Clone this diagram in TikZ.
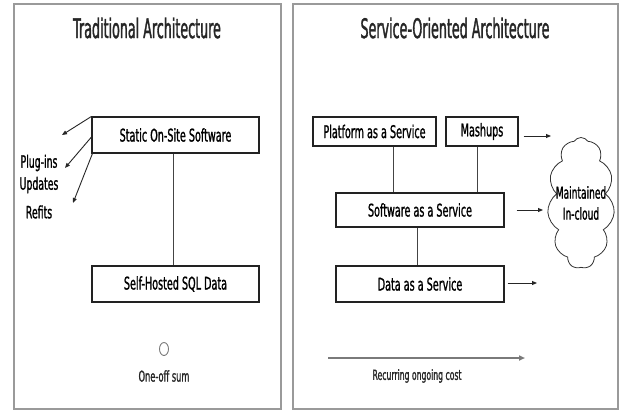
\documentclass[tikz,border=0pt]{standalone}
\usepackage{fontspec}
\setmainfont{DejaVu Sans}[FakeStretch=0.55,FakeBold=1.1]
\newfontfamily\titlefont{DejaVu Sans}[FakeStretch=0.47,FakeBold=1.2]
\usetikzlibrary{arrows.meta,shapes.symbols,shapes.geometric}
\definecolor{frame}{HTML}{9A9A9A}
\definecolor{boxline}{HTML}{222222}
\definecolor{conn}{HTML}{444444}
\definecolor{cost}{HTML}{7A7A7A}
\begin{document}
\begin{tikzpicture}[x=1pt,y=-1pt,
  panel/.style={draw=frame,line width=1.4pt},
  titletext/.style={font=\titlefont\fontsize{27}{29}\selectfont,text=black!85},
  sbox/.style={draw=boxline,line width=1.1pt,fill=white,inner sep=0pt,
    font=\fontsize{17.5}{19}\selectfont},
  lbl/.style={font=\fontsize{17}{19}\selectfont,inner sep=0pt},
  small/.style={font=\fontsize{15}{17}\selectfont,text=black!85,inner sep=0pt},
  link/.style={draw=conn,line width=0.8pt},
  arr/.style={draw=black!85,line width=0.9pt,-{Triangle[length=5pt,width=4pt]}},
  costarr/.style={draw=cost,line width=1.6pt,-{Triangle[length=6pt,width=5pt]}}
]
\useasboundingbox (0,0) rectangle (620,412);
\fill[white] (0,0) rectangle (620,412);
% panels
\draw[panel] (14,4) rectangle (281,409);
\draw[panel] (293,4) rectangle (618,409);
% titles
\node[titletext] (t1) at (147,28) {Traditional Architecture};
\node[titletext] (t2) at (455,28) {Service-Oriented Architecture};
% left side
\node[sbox,minimum width=167,minimum height=36] (static) at (175.5,135) {Static On-Site Software};
\node[sbox,minimum width=167,minimum height=36] (sql) at (175.5,284) {Self-Hosted SQL Data};
\draw[link] ([xshift=-2.5pt]static.south) -- ([xshift=-2.5pt]sql.north);
\node[lbl] (plug) at (39,163) {Plug-ins};
\node[lbl] (upd) at (39,185) {Updates};
\node[lbl] (ref) at (39,212) {Refits};
\coordinate (a1) at (62,135);
\coordinate (a2) at (65,168);
\coordinate (a3) at (73,203);
\draw[arr] (static.north west) -- (a1);
\draw[arr] ([yshift=-2pt]static.west) -- (a2);
\draw[arr] ([xshift=1pt]static.south west) -- (a3);
\node[draw=cost,line width=0.9pt,ellipse,minimum width=9,minimum height=13,inner sep=0pt] (sum) at (164,349) {};
\node[small] (oneoff) at (164,376) {One-off sum};
% right side
\node[sbox,minimum width=123,minimum height=29] (paas) at (374.5,131.5) {Platform as a Service};
\node[sbox,minimum width=72,minimum height=29] (mash) at (482,131.5) {Mashups};
\node[sbox,minimum width=168,minimum height=34] (saas) at (420,210) {Software as a Service};
\node[sbox,minimum width=168,minimum height=36] (daas) at (420,284) {Data as a Service};
\draw[link] ([xshift=18.5pt]paas.south) -- ([xshift=18.5pt]paas.south |- saas.north);
\draw[link] ([xshift=-5pt]mash.south) -- ([xshift=-5pt]mash.south |- saas.north);
\draw[link] ([xshift=-3pt]saas.south) -- ([xshift=-3pt]daas.north);
\coordinate (m2) at (551,136);
\coordinate (s2) at (543,210);
\coordinate (d2) at (537,283);
\draw[arr] ([xshift=5pt]mash.east |- m2) -- (m2);
\draw[arr] ([xshift=12pt]saas.east) -- (s2);
\draw[arr] ([xshift=3pt]daas.east |- d2) -- (d2);
\node[draw=black!80,line width=0.8pt,cloud,cloud puffs=11,cloud puff arc=115,
  cloud ignores aspect,minimum width=67,minimum height=131,inner sep=0pt] (cloud) at (581,203) {};
\node[lbl,align=center,font=\fontsize{16.5}{21}\selectfont] (ctext) at (cloud.center) {Maintained\\In-cloud};
\coordinate (r1) at (328,358);
\coordinate (r2) at (525,358);
\draw[costarr] (r1) -- (r2);
\node[small,font=\fontsize{14}{16}\selectfont] (rec) at (417,376) {Recurring ongoing cost};
\end{tikzpicture}
\end{document}
